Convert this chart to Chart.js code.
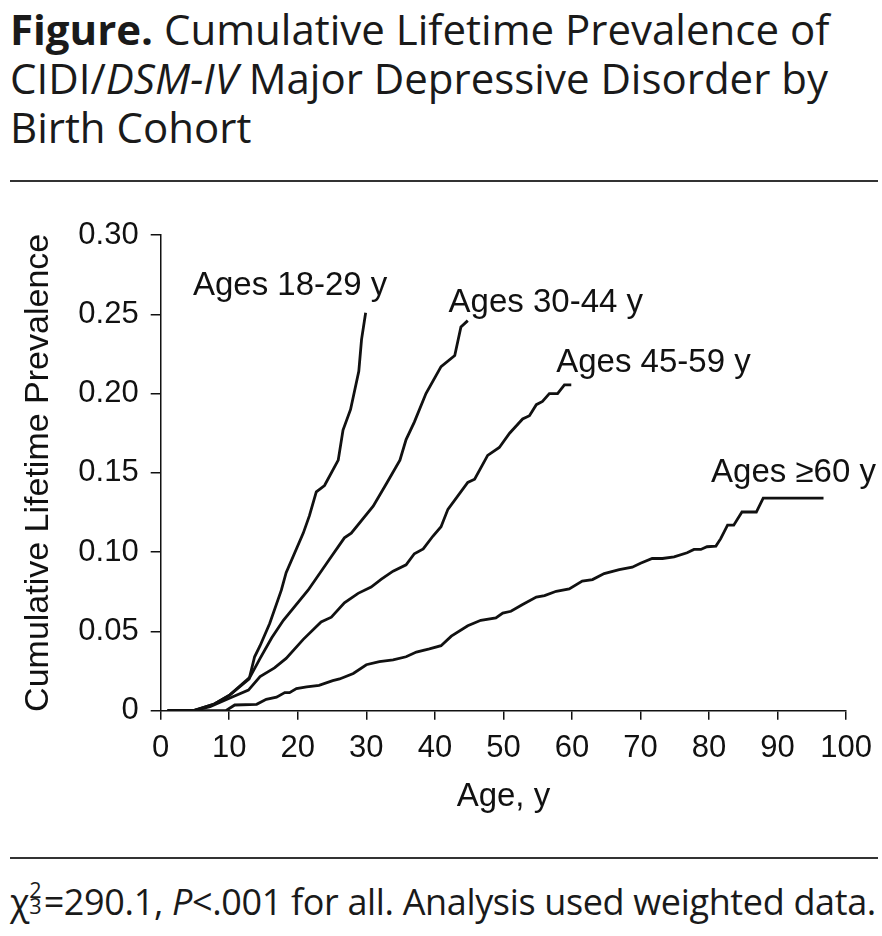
<!DOCTYPE html>
<html>
<head>
<meta charset="utf-8">
<script src="https://cdn.jsdelivr.net/npm/chart.js@4.4.1/dist/chart.umd.min.js"></script>
<style>
  html, body { margin: 0; padding: 0; background: #fff; }
  body { width: 882px; height: 936px; position: relative; overflow: hidden; color: #1a1a1a; }
  #title { position: absolute; left: 10px; top: 4px; font-family: "Open Sans", sans-serif; font-size: 42px; line-height: 49px; white-space: nowrap; }
  #title b { font-weight: 700; }
  .rule { position: absolute; left: 10px; width: 868px; height: 2px; background: #333; }
  #chartBox { position: absolute; left: 0; top: 190px; width: 882px; height: 660px; }
  #note { position: absolute; left: 10px; top: 879px; font-family: "Open Sans", sans-serif; font-size: 36px; line-height: 36px; letter-spacing: -0.35px; white-space: nowrap; }
  .idx { display: inline-block; position: relative; width: 0.4em; height: 1em; }
  .idx span { position: absolute; left: 0; font-size: 0.6em; line-height: 1; }
  .idx .sup { top: -0.02em; }
  .idx .sub { top: 0.72em; }
</style>
</head>
<body>
<div id="title"><b>Figure.</b> Cumulative Lifetime Prevalence of<br>CIDI/<i>DSM-IV</i> Major Depressive Disorder by<br>Birth Cohort</div>
<div class="rule" style="top:180px"></div>
<div id="chartBox"><canvas id="myChart" width="882" height="660"></canvas></div>
<div class="rule" style="top:857px"></div>
<div id="note">χ<span class="idx"><span class="sup">2</span><span class="sub">3</span></span>=290.1, <i>P</i>&lt;.001 for all. Analysis used weighted data.</div>

<script>
"use strict";

//Age (years) and cumulative lifetime prevalence for each birth cohort.
var ages18 = [1, 4.8, 7.7, 10.1, 12.9, 13.7, 14.5, 15.9, 17.6, 18.3, 20.8, 21.7, 22.7, 23.9, 25.9, 26.6, 27.7, 28.9, 29.3, 29.9];
var prev18 = [0, 0, 0.004, 0.010, 0.020, 0.034, 0.041, 0.055, 0.076, 0.087, 0.112, 0.123, 0.138, 0.142, 0.158, 0.177, 0.190, 0.214, 0.234, 0.251];

var ages30 = [1, 4.8, 7.7, 10.1, 13, 14.5, 16.2, 17.9, 21.5, 24.7, 26.8, 27.8, 31, 32.9, 34.9, 35.8, 37.0, 38.7, 40.9, 42.9, 43.8, 44.8];
var prev30 = [0, 0, 0.004, 0.010, 0.021, 0.033, 0.046, 0.057, 0.076, 0.096, 0.109, 0.112, 0.129, 0.143, 0.158, 0.171, 0.182, 0.200, 0.217, 0.224, 0.242, 0.246];

var ages45 = [1, 4.8, 7.2, 10.1, 12.8, 14.5, 16.6, 18.3, 20.8, 23.4, 24.9, 26.8, 28.8, 30.7, 32.2, 33.9, 35.8, 37, 38.3, 39.7,
    40.9, 41.9, 44.8, 45.8, 47.7, 49.4, 50.9, 52.8, 53.8, 54.8, 55.7, 56.7, 57.9, 58.9, 59.9];
var prev45 = [0, 0, 0.0025, 0.008, 0.013, 0.0215, 0.027, 0.033, 0.045, 0.056, 0.059, 0.068, 0.074, 0.078, 0.083, 0.088, 0.092, 0.099, 0.102, 0.110,
    0.116, 0.127, 0.144, 0.146, 0.161, 0.166, 0.175, 0.184, 0.186, 0.193, 0.195, 0.200, 0.200, 0.2055, 0.2055];

var ages60 = [1, 9.5, 10.8, 14, 15.4, 16.9, 18.1, 18.8, 19.8, 21.3, 23.1, 25.1, 26.1, 28.1, 30, 31.9, 33.9, 35.8, 37.3, 39.2,
    40.9, 42.4, 44.8, 46.7, 48.9, 49.9, 51.1, 52.8, 54.8, 56, 57.7, 59.6, 61.5, 63, 64.7, 66.9, 68.8, 70, 71.7, 73.2,
    74.9, 76.8, 77.8, 78.8, 79.7, 81, 81.7, 82.7, 83.6, 84.8, 86.9, 87.9, 96.7];
var prev60 = [0, 0, 0.0036, 0.004, 0.0072, 0.0085, 0.0114, 0.0114, 0.014, 0.015, 0.016, 0.019, 0.020, 0.0235, 0.029, 0.031, 0.032, 0.034, 0.037, 0.039,
    0.041, 0.047, 0.0536, 0.057, 0.0585, 0.0616, 0.0627, 0.067, 0.0717, 0.0726, 0.0753, 0.0768, 0.0817, 0.0827, 0.0865, 0.089, 0.0905, 0.093, 0.096, 0.096,
    0.097, 0.0996, 0.1017, 0.1017, 0.1034, 0.1038, 0.1085, 0.117, 0.117, 0.1253, 0.1253, 0.134, 0.134];

//Cohort names and where their labels sit (in data units: age, prevalence).
var cohortNames = ["Ages 18-29 y", "Ages 30-44 y", "Ages 45-59 y", "Ages \u226560 y"];
var labelAges = [4.7, 42.0, 57.7, 80.3];
var labelPrev = [0.262, 0.2517, 0.2137, 0.1441];

//Axis tick values.
var xTicks = [0, 10, 20, 30, 40, 50, 60, 70, 80, 90, 100];
var yTicks = [0, 0.05, 0.10, 0.15, 0.20, 0.25, 0.30];

var FONT = "'Liberation Sans', Arial, Helvetica, sans-serif";
var INK = "#111";

function toPoints(xs, ys) {
    var pts = [];
    for (var i = 0; i < xs.length; i++) {
        pts.push({ x: xs[i], y: ys[i] });
    }
    return pts;
}

var seriesAges = [ages18, ages30, ages45, ages60];
var seriesPrev = [prev18, prev30, prev45, prev60];
var datasets = [];
for (var s = 0; s < cohortNames.length; s++) {
    datasets.push({
        label: cohortNames[s],
        data: toPoints(seriesAges[s], seriesPrev[s]),
        borderColor: INK,
        borderWidth: 2.8,
        pointRadius: 0,
        tension: 0,
        fill: false
    });
}

//Writes each cohort name next to its curve.
var curveLabels = {
    id: 'curveLabels',
    afterDatasetsDraw: function (chart) {
        var ctx = chart.ctx;
        ctx.save();
        ctx.font = "33px " + FONT;
        ctx.fillStyle = INK;
        ctx.textAlign = "left";
        ctx.textBaseline = "alphabetic";
        for (var i = 0; i < cohortNames.length; i++) {
            ctx.fillText(cohortNames[i], chart.scales.x.getPixelForValue(labelAges[i]), chart.scales.y.getPixelForValue(labelPrev[i]));
        }
        ctx.restore();
    }
};

var ctx = document.getElementById('myChart').getContext('2d');
var myChart = new Chart(ctx, {
    type: 'line',
    data: { datasets: datasets },
    plugins: [curveLabels],
    options: {
        responsive: false,
        animation: false,
        layout: { padding: { top: 45, right: 34.6, left: 0, bottom: 0 } },
        plugins: {
            legend: { display: false },
            tooltip: { enabled: false }
        },
        scales: {
            x: {
                type: 'linear',
                min: 0,
                max: 100,
                afterFit: function (axis) { axis.height = 139.3; },
                afterBuildTicks: function (axis) { axis.ticks = xTicks.map(function (v) { return { value: v }; }); },
                grid: { drawOnChartArea: false, drawTicks: true, tickLength: 9, color: INK, lineWidth: 1.5 },
                border: { display: true, color: INK, width: 1.5 },
                ticks: { color: INK, font: { family: FONT, size: 31 }, padding: 10, maxRotation: 0, autoSkip: false },
                title: { display: true, text: "Age, y", color: INK, font: { family: FONT, size: 33 }, padding: { top: 0, bottom: 33 } }
            },
            y: {
                type: 'linear',
                min: 0,
                max: 0.30,
                afterFit: function (axis) { axis.width = 160.7; },
                afterBuildTicks: function (axis) { axis.ticks = yTicks.map(function (v) { return { value: v }; }); },
                grid: { drawOnChartArea: false, drawTicks: true, tickLength: 10, color: INK, lineWidth: 1.5 },
                border: { display: true, color: INK, width: 1.5 },
                ticks: {
                    color: INK,
                    font: { family: FONT, size: 31 },
                    padding: 12,
                    autoSkip: false,
                    callback: function (v) { return v === 0 ? "0" : v.toFixed(2); }
                },
                title: { display: true, text: "Cumulative Lifetime Prevalence", color: INK, font: { family: FONT, size: 34 }, padding: { top: 18, bottom: 0 } }
            }
        }
    }
});
</script>
</body>
</html>
